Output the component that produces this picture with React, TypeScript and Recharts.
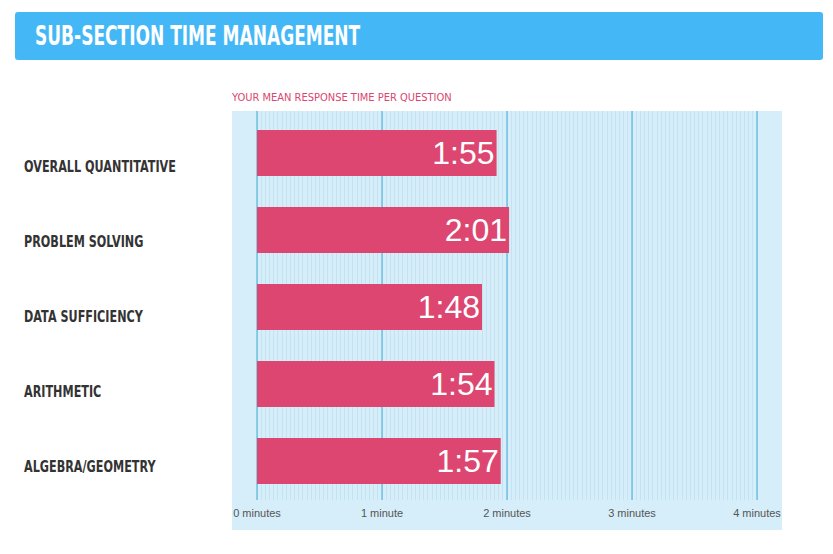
import React from 'react';
import { BarChart, Bar, XAxis, YAxis, CartesianGrid, LabelList } from 'recharts';

// mean response time per question, in seconds
const categories = [
  'OVERALL QUANTITATIVE',
  'PROBLEM SOLVING',
  'DATA SUFFICIENCY',
  'ARITHMETIC',
  'ALGEBRA/GEOMETRY',
];
const seconds = [115, 121, 108, 114, 117];
const majorTicks = [0, 60, 120, 180, 240];
const tickLabels = ['0 minutes', '1 minute', '2 minutes', '3 minutes', '4 minutes'];

// faint stripes every 2 seconds
const minorTicks = Array.from({ length: 121 }, (_, i) => i * 2);

const data = categories.map((name, i) => ({ name, value: seconds[i] }));

const boldFont = '"DejaVu Sans", sans-serif';
const plainFont = '"Liberation Sans", Arial, sans-serif';
const narrowFont = '"DejaVu Sans Condensed", sans-serif';

const fmt = (s: number) => `${Math.floor(s / 60)}:${String(s % 60).padStart(2, '0')}`;

const tickText = (v: number) => {
  const i = majorTicks.indexOf(v);
  return i >= 0 ? tickLabels[i] : '';
};

const CategoryTick = (props: any) => {
  const { y, payload, index } = props;
  return (
    <text
      transform={`translate(24, ${y + 13 - 2 * index}) scale(0.68, 1)`}
      dy="0.36em"
      textAnchor="start"
      fill="#333"
      fontFamily={boldFont}
      fontWeight="bold"
      fontSize={16.5}
    >
      {payload.value}
    </text>
  );
};

export default function App() {
  return (
    <div
      style={{
        position: 'fixed',
        left: 0,
        top: 0,
        width: 833,
        height: 554,
        background: '#fff',
        overflow: 'hidden',
      }}
    >
      <div
        style={{
          position: 'absolute',
          left: 15,
          top: 12,
          width: 808,
          height: 48,
          background: '#44b8f6',
          borderRadius: 3,
        }}
      />
      <div
        style={{
          position: 'absolute',
          left: 35,
          top: 12,
          height: 48,
          color: '#fff',
          fontFamily: boldFont,
          fontWeight: 'bold',
          fontSize: 26,
          lineHeight: '48px',
          whiteSpace: 'nowrap',
          transform: 'scaleX(0.655)',
          transformOrigin: '0 0',
        }}
      >
        SUB-SECTION TIME MANAGEMENT
      </div>
      <div
        style={{
          position: 'absolute',
          left: 232,
          top: 91,
          color: '#d9466f',
          fontFamily: narrowFont,
          fontSize: 11,
          lineHeight: '14px',
          whiteSpace: 'nowrap',
        }}
      >
        YOUR MEAN RESPONSE TIME PER QUESTION
      </div>
      <div
        style={{
          position: 'absolute',
          left: 232,
          top: 111,
          width: 550,
          height: 419,
          background: '#d5eef9',
        }}
      />
      <div style={{ position: 'absolute', left: 0, top: 0 }}>
        <BarChart
          width={833}
          height={554}
          data={data}
          layout="vertical"
          margin={{ top: 114.5, right: 76, bottom: 24.5, left: 0 }}
          barCategoryGap="20%"
        >
          <CartesianGrid
            horizontal={false}
            verticalValues={minorTicks}
            stroke="#c4e2ef"
            strokeWidth={1}
            shapeRendering="crispEdges"
            y={111}
            height={389}
          />
          <CartesianGrid
            horizontal={false}
            stroke="#40aad9"
            strokeWidth={1}
            y={111}
            height={389}
          />
          <XAxis
            type="number"
            domain={[0, 240]}
            ticks={majorTicks}
            interval={0}
            tickFormatter={tickText}
            axisLine={false}
            tickLine={false}
            height={30}
            tickMargin={4}
            tick={{ fill: '#555', fontSize: 11, fontFamily: plainFont }}
          />
          <YAxis
            type="category"
            dataKey="name"
            width={257}
            axisLine={false}
            tickLine={false}
            tick={<CategoryTick />}
          />
          <Bar dataKey="value" fill="#dc4670" isAnimationActive={false}>
            <LabelList
              dataKey="value"
              position="insideRight"
              offset={2}
              formatter={(v: number) => fmt(v)}
              fill="#fff"
              fontSize={32}
              fontFamily={plainFont}
            />
          </Bar>
        </BarChart>
      </div>
    </div>
  );
}
